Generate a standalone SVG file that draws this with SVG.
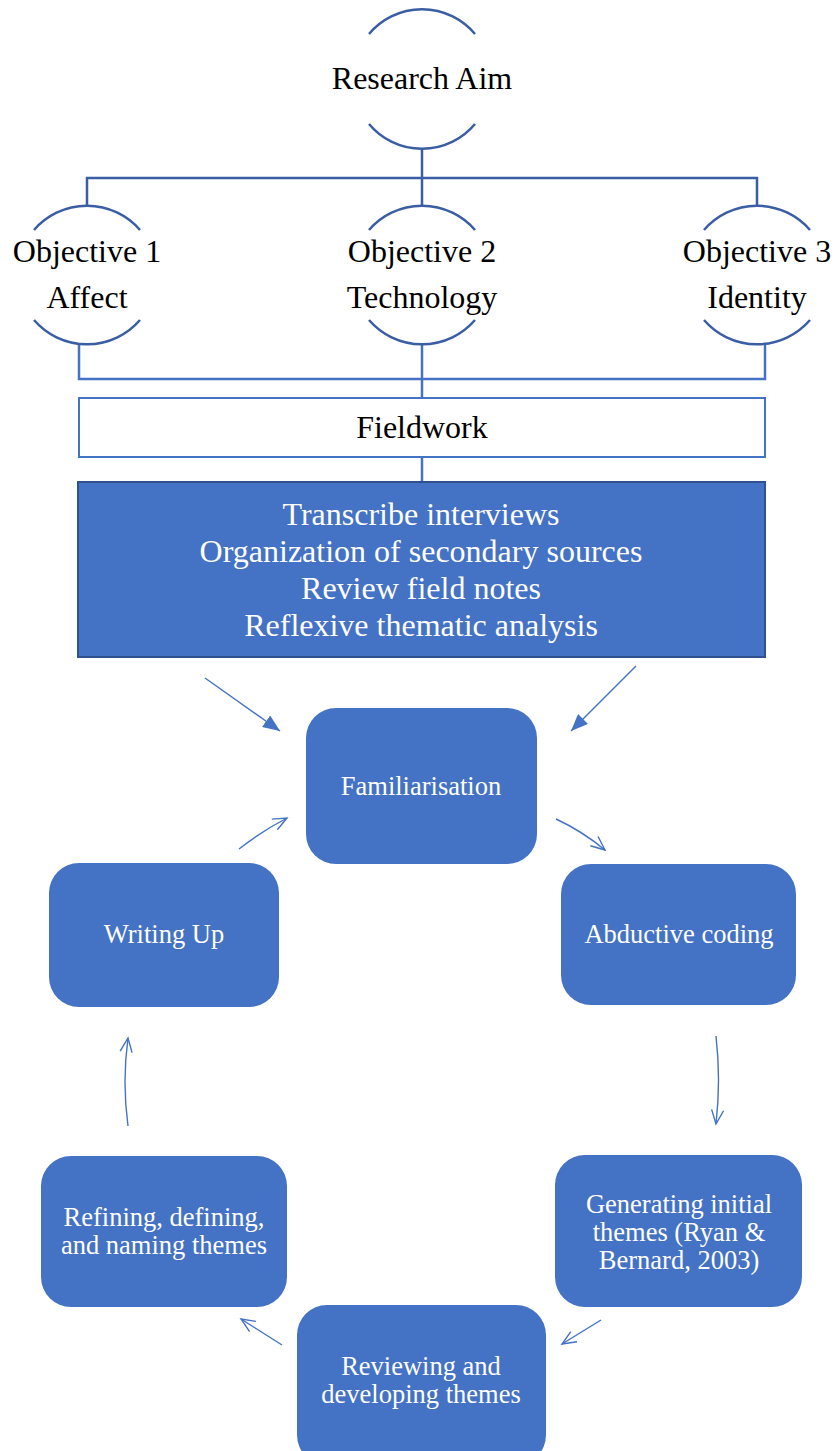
<svg xmlns="http://www.w3.org/2000/svg" width="835" height="1451" viewBox="0 0 835 1451">
<style>
.arc{fill:none;stroke:#3A5DA3;stroke-width:2.5}
.dk{fill:none;stroke:#3A5DA3;stroke-width:2.5}
.lt{fill:none;stroke:#4472C4;stroke-width:2.5}
.t{font-family:"Liberation Serif","Times New Roman",serif;font-size:32px;fill:#000;text-anchor:middle}
.w{font-family:"Liberation Serif","Times New Roman",serif;font-size:32px;fill:#fff;text-anchor:middle}
.s{font-family:"Liberation Serif","Times New Roman",serif;font-size:26.5px;fill:#fff;text-anchor:middle}
.box{fill:#4472C4}
.ar{fill:none;stroke:#4472C4;stroke-width:1.4}
</style>
<defs>
<marker id="fh" viewBox="0 0 17 14" refX="17" refY="7" markerWidth="17" markerHeight="14" markerUnits="userSpaceOnUse" orient="auto">
<path d="M0,0 L17,7 L0,14 Z" fill="#4472C4"/>
</marker>
<marker id="oh" viewBox="0 0 16 14" refX="15" refY="7" markerWidth="16" markerHeight="14" markerUnits="userSpaceOnUse" orient="auto" overflow="visible">
<path d="M1,1 L15,7 L1,13" fill="none" stroke="#4472C4" stroke-width="1.4"/>
</marker>
</defs>
<g id="connectors">
<path class="dk" d="M422,148 V178 M87,205 V178 H757 V205 M422,178 V205"/>
<path class="lt" d="M79,345 V379 H765 V345 M422,345 V398 M422,457 V482"/>
<path class="ar" d="M205,678 L280,731" marker-end="url(#fh)"/>
<path class="ar" d="M636,666 L571,731" marker-end="url(#fh)"/>
<path class="ar" d="M556,819 Q582,831 605,850" marker-end="url(#oh)"/>
<path class="ar" d="M716,1036 Q721,1080 716,1124" marker-end="url(#oh)"/>
<path class="ar" d="M601,1320 L562,1344" marker-end="url(#oh)"/>
<path class="ar" d="M282,1345 L241,1319" marker-end="url(#oh)"/>
<path class="ar" d="M128,1126 Q122,1082 128,1038" marker-end="url(#oh)"/>
<path class="ar" d="M239,849 Q262,831 287,818" marker-end="url(#oh)"/>
</g>
<g id="aim">
<path class="arc" d="M369,34 A69,69 0 0 1 475,34 M369,124 A69,69 0 0 0 475,124"/>
<text class="t" x="422" y="89">Research Aim</text>
</g>
<g id="obj1">
<path class="arc" d="M34,230 A70,70 0 0 1 140,230 M34,320 A70,70 0 0 0 140,320"/>
<text class="t" x="87" y="262">Objective 1</text>
<text class="t" x="87" y="308">Affect</text>
</g>
<g id="obj2">
<path class="arc" d="M369,230 A70,70 0 0 1 475,230 M369,320 A70,70 0 0 0 475,320"/>
<text class="t" x="422" y="262">Objective 2</text>
<text class="t" x="422" y="308">Technology</text>
</g>
<g id="obj3">
<path class="arc" d="M704,230 A70,70 0 0 1 810,230 M704,320 A70,70 0 0 0 810,320"/>
<text class="t" x="757" y="262">Objective 3</text>
<text class="t" x="757" y="308">Identity</text>
</g>
<g id="fieldwork">
<rect x="79" y="398" width="686" height="59" fill="#fff" stroke="#4472C4" stroke-width="2"/>
<text class="t" x="422" y="438">Fieldwork</text>
</g>
<g id="tasks">
<rect x="78" y="482" width="687" height="175" fill="#4472C4" stroke="#2F528F" stroke-width="2"/>
<text class="w" x="421" y="525">Transcribe interviews</text>
<text class="w" x="421" y="562">Organization of secondary sources</text>
<text class="w" x="421" y="599">Review field notes</text>
<text class="w" x="421" y="636">Reflexive thematic analysis</text>
</g>
<g id="familiarisation">
<rect class="box" x="306" y="708" width="231" height="156" rx="30"/>
<text class="s" x="421" y="795">Familiarisation</text>
</g>
<g id="writing">
<rect class="box" x="49" y="863" width="230" height="144" rx="30"/>
<text class="s" x="164" y="943">Writing Up</text>
</g>
<g id="abductive">
<rect class="box" x="561" y="864" width="235" height="141" rx="30"/>
<text class="s" x="679" y="943">Abductive coding</text>
</g>
<g id="generating">
<rect class="box" x="555" y="1155" width="247" height="152" rx="30"/>
<text class="s" x="679" y="1213">Generating initial</text>
<text class="s" x="679" y="1241">themes (Ryan &amp;</text>
<text class="s" x="679" y="1269">Bernard, 2003)</text>
</g>
<g id="reviewing">
<rect class="box" x="297" y="1305" width="249" height="160" rx="30"/>
<text class="s" x="421" y="1375">Reviewing and</text>
<text class="s" x="421" y="1403">developing themes</text>
</g>
<g id="refining">
<rect class="box" x="41" y="1156" width="246" height="151" rx="30"/>
<text class="s" x="164" y="1226">Refining, defining,</text>
<text class="s" x="164" y="1254">and naming themes</text>
</g>
</svg>
